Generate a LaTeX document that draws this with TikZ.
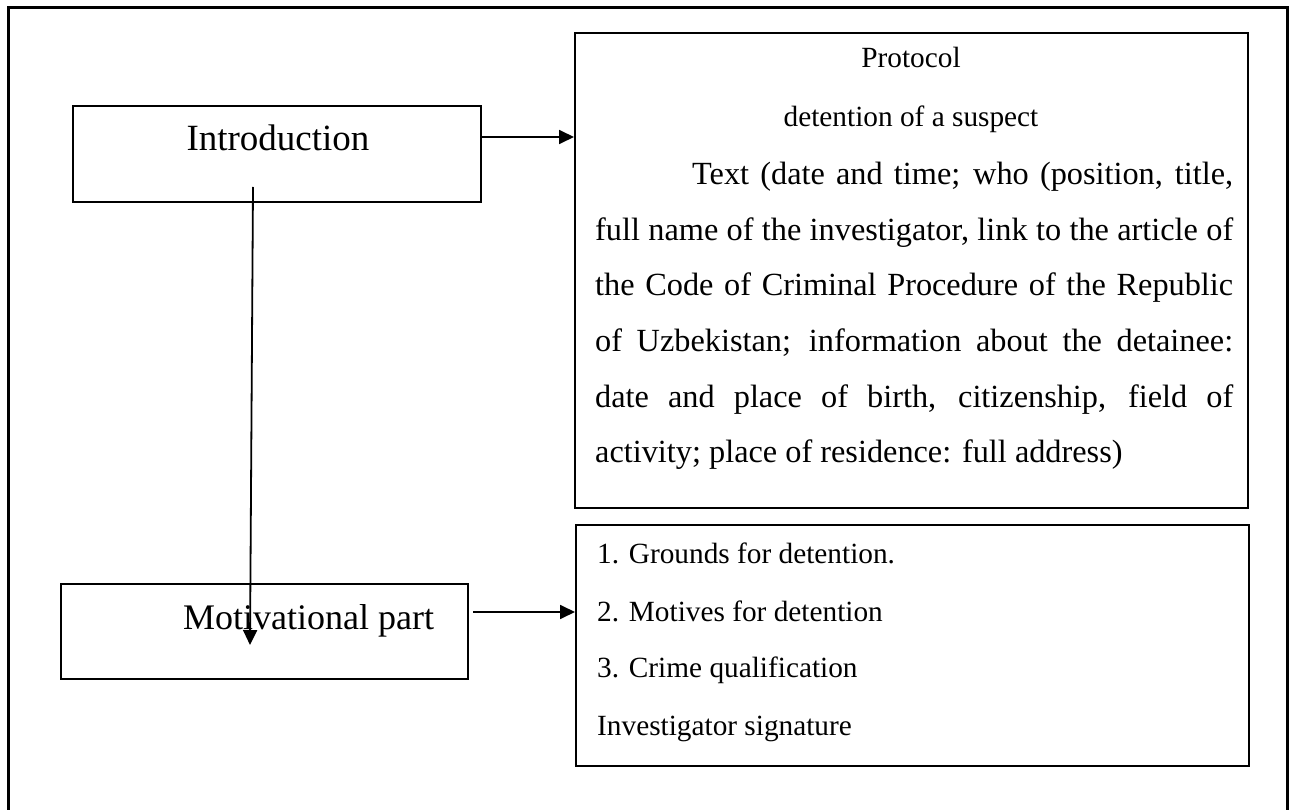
\documentclass[tikz,border=0pt]{standalone}
\usepackage{fontspec}
\setmainfont{Liberation Serif}
\usetikzlibrary{arrows.meta}
\begin{document}
\begin{tikzpicture}[x=1pt,y=-1pt,
  box/.style={draw, line width=2pt, inner sep=0pt, anchor=north west},
  arr/.style={line width=1.8pt, -{Triangle[length=15pt,width=14pt]}},
  txt/.style={inner sep=0pt, anchor=base west},
  ctxt/.style={inner sep=0pt, anchor=base},
  bodyfont/.style={font=\fontsize{32.3}{40}\selectfont},
  smallfont/.style={font=\fontsize{29.3}{36}\selectfont},
]
\useasboundingbox (0,0) rectangle (1291,810);
% outer frame
\draw[line width=3pt] (8,810) -- (8,8) -- (1287,8) -- (1287,810);
% boxes
\node[box, minimum width=408pt, minimum height=96pt] (intro) at (72,105) {};
\node[box, minimum width=407pt, minimum height=95pt] (motiv) at (60,583) {};
\node[box, minimum width=673pt, minimum height=475pt] (proto) at (574,32) {};
\node[box, minimum width=673pt, minimum height=241pt] (lower) at (575,524) {};
% left texts
\node[ctxt, font=\fontsize{37}{44}\selectfont] (introT) at (278,151) {Introduction};
\node[txt, font=\fontsize{36}{44}\selectfont] (motivT) at (183,629) {Motivational part};
% protocol texts
\node[ctxt, smallfont] (p1) at (911,68) {Protocol};
\node[ctxt, smallfont] (p2) at (911,127) {detention of a suspect};
\node[txt, bodyfont] (l1) at (692,185) {\makebox[541pt][s]{Text (date and time; who (position, title,}};
\node[txt, bodyfont] (l2) at (595,241) {\makebox[638pt][s]{full name of the investigator, link to the article of}};
\node[txt, bodyfont] (l3) at (595,296) {\makebox[638pt][s]{the Code of Criminal Procedure of the Republic}};
\node[txt, bodyfont] (l4) at (595,352) {\makebox[638pt][s]{of Uzbekistan; information about the detainee:}};
\node[txt, bodyfont] (l5) at (595,407) {\makebox[638pt][s]{date and place of birth, citizenship, field of}};
\node[txt, bodyfont] (l6) at (595,462) {activity; place of residence: full address)};
% lower right texts
\node[txt, smallfont] (g1) at (597,563) {1. Grounds for detention.};
\node[txt, smallfont] (g2) at (597,621) {2. Motives for detention};
\node[txt, smallfont] (g3) at (597,677) {3. Crime qualification};
\node[txt, smallfont] (g4) at (597,735) {Investigator signature};
% connectors
\coordinate (a1) at (480,137);
\draw[arr] (a1) -- (a1 -| proto.west);
\coordinate (v1) at (253,187);
\coordinate (v2) at (250,645);
\draw[arr] (v1) -- (v2);
\coordinate (m1) at (473,612);
\draw[arr] (m1) -- (m1 -| lower.west);
\end{tikzpicture}
\end{document}
